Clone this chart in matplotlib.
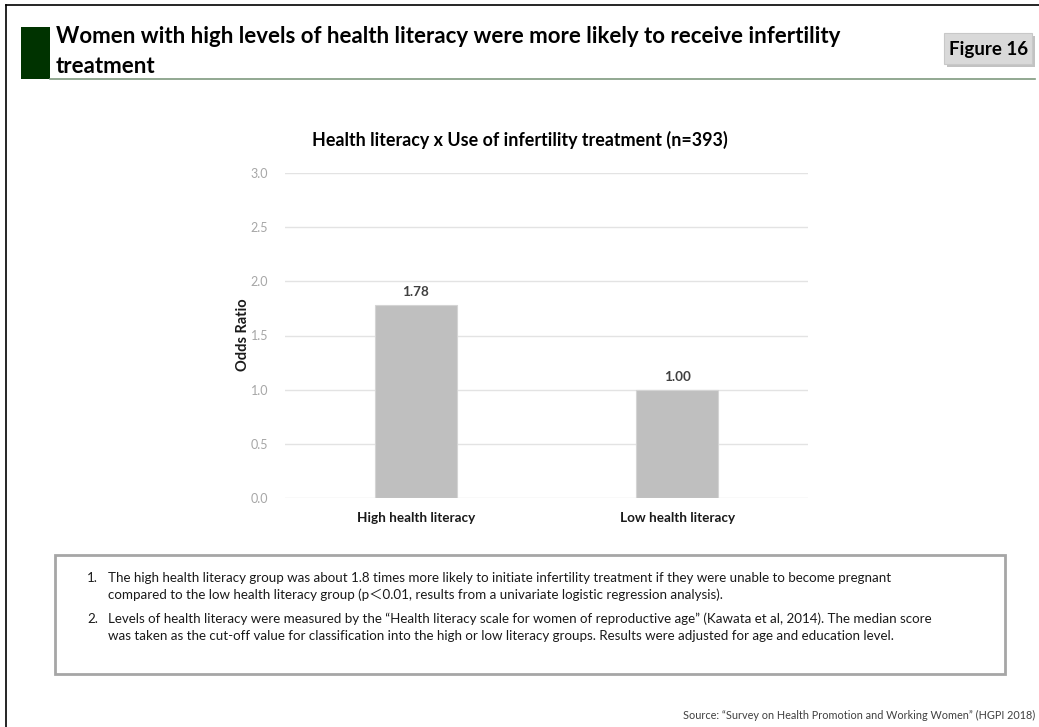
import matplotlib
matplotlib.use("Agg")
import matplotlib.pyplot as plt
from matplotlib.patches import Rectangle
from matplotlib.lines import Line2D

W, H = 1039, 727
FONTS = ["Lato", "Noto Sans CJK JP", "DejaVu Sans"]

categories = ["High health literacy", "Low health literacy"]
odds_ratio = [1.78, 1.00]
value_labels = ["1.78", "1.00"]
y_ticks = [0.0, 0.5, 1.0, 1.5, 2.0, 2.5, 3.0]

headline = ["Women with high levels of health literacy were more likely to receive infertility",
            "treatment"]
figure_tag = "Figure 16"
chart_title = "Health literacy x Use of infertility treatment (n=393)"
y_label = "Odds Ratio"
notes = [
    ("1.", "The high health literacy group was about 1.8 times more likely to initiate infertility treatment if they were unable to become pregnant",
     "compared to the low health literacy group (p\uff1c0.01, results from a univariate logistic regression analysis)."),
    ("2.", "Levels of health literacy were measured by the \u201cHealth literacy scale for women of reproductive age\u201d (Kawata et al, 2014). The median score",
     "was taken as the cut-off value for classification into the high or low literacy groups. Results were adjusted for age and education level."),
]
source = "Source: \u201cSurvey on Health Promotion and Working Women\u201d (HGPI 2018)"

plt.rcParams["font.family"] = FONTS

fig = plt.figure(figsize=(W / 100, H / 100), dpi=100)
fig.patch.set_facecolor("white")


def fx(px):
    return px / W


def fy(py):
    return 1 - py / H


def rect(x0, y0, x1, y1, **kw):
    fig.add_artist(Rectangle((fx(x0), fy(y1)), fx(x1) - fx(x0), fy(y0) - fy(y1),
                             transform=fig.transFigure, **kw))


# page frame (top and left edges only)
fig.add_artist(Line2D([fx(6), fx(6)], [fy(5), 0], transform=fig.transFigure, color="black", lw=1.2))
fig.add_artist(Line2D([fx(6), 1], [fy(5), fy(5)], transform=fig.transFigure, color="black", lw=1.2))

# headline block
rect(21, 27, 50, 79, facecolor="#003300", edgecolor="none")
fig.add_artist(Line2D([fx(50), fx(1035)], [fy(79), fy(79)], transform=fig.transFigure,
                      color="#7f9a7f", lw=1.2))
for line, base in zip(headline, [43, 73]):
    fig.text(fx(56), fy(base), line, ha="left", va="baseline", fontsize=16,
             fontweight="bold", color="black")

# figure tag with a soft shadow
rect(947, 36, 1035, 67, facecolor="#9a9a9a", edgecolor="none", alpha=0.6)
rect(944, 33, 1032, 64, facecolor="#d9d9d9", edgecolor="#c8c8c8", lw=0.8)
fig.text(fx(989), fy(49), figure_tag, ha="center", va="center", fontsize=13.5,
         fontweight="bold", color="black")

# bar chart
ax = fig.add_axes([fx(285), fy(498), fx(808) - fx(285), fy(173) - fy(498)])
x = list(range(len(categories)))
ax.bar(x, odds_ratio, width=0.314, color="#bfbfbf", edgecolor="#d4d4d4", lw=0.8, zorder=3)
for xi, v, lab in zip(x, odds_ratio, value_labels):
    ax.annotate(lab, (xi, v), xytext=(0, 5), textcoords="offset points", ha="center",
                va="bottom", fontsize=9.75, fontweight="bold", color="#404040")
ax.set_xlim(-0.5, 1.5)
ax.set_ylim(0, 3.0)
ax.set_yticks(y_ticks)
ax.set_yticklabels([f"{t:.1f}" for t in y_ticks], fontsize=9, color="#a6a6a6")
ax.set_xticks(x)
ax.set_xticklabels(categories, fontsize=9.75, fontweight="bold", color="#1a1a1a")
ax.tick_params(axis="both", length=0)
ax.tick_params(axis="y", pad=12)
ax.tick_params(axis="x", pad=10)
ax.grid(axis="y", color="#e3e3e3", lw=1.0, zorder=0)
for s in ax.spines.values():
    s.set_visible(False)
ax.set_facecolor("none")
fig.text(fx(243), fy(335), y_label, rotation=90, ha="center", va="center",
         fontsize=10.5, fontweight="bold", color="#1a1a1a")
fig.text(fx(520), fy(140), chart_title, ha="center", va="center", fontsize=12.9,
         fontweight="bold", color="black")

# notes box
rect(55, 555, 1005, 674, facecolor="white", edgecolor="#a6a6a6", lw=2)
line_y = [(578, 595), (619, 636)]
for (num, l1, l2), (y1, y2) in zip(notes, line_y):
    fig.text(fx(87), fy(y1), num, ha="left", va="center", fontsize=9.6, color="#1a1a1a")
    fig.text(fx(108), fy(y1), l1, ha="left", va="center", fontsize=9.6, color="#1a1a1a")
    fig.text(fx(108), fy(y2), l2, ha="left", va="center", fontsize=9.6, color="#1a1a1a")

fig.text(fx(1035), fy(715), source, ha="right", va="center", fontsize=7.8, color="#404040")

fig.savefig("out.png", dpi=100)
